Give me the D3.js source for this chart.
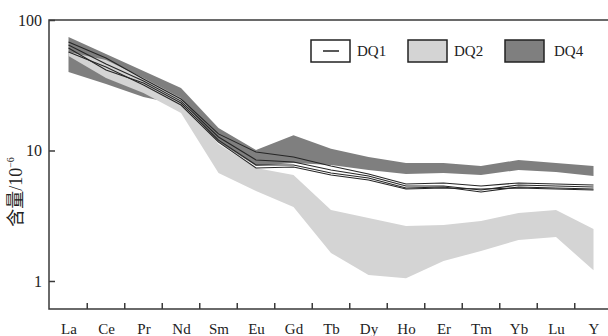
<!doctype html>
<html>
  <head>
    <script src="https://cdnjs.cloudflare.com/ajax/libs/d3/7.8.5/d3.min.js"></script>
    <style>
      body { margin: 0; background: #fff; }
      text { font-family: "Liberation Serif", "DejaVu Serif", serif; fill: #222; }
      .frame { stroke: #3a3a3a; stroke-width: 1.5; fill: none; }
      .dq1 { fill: none; stroke: #262626; stroke-width: 1.1; }
      .dq2 { fill: #d4d4d4; stroke: none; }
      .dq4 { fill: #7f7f7f; stroke: none; }
    </style>
  </head>
  <body>
    <svg width="608" height="336"></svg>
    <script>
      // REE elements on the x axis
      var elements = ["La", "Ce", "Pr", "Nd", "Sm", "Eu", "Gd", "Tb", "Dy", "Ho", "Er", "Tm", "Yb", "Lu", "Y"];

      // DQ1 samples (lines)
      var dq1a = [67.8, 51.2, 35.3, 24.8, 13.4, 9.74, 8.92, 7.61, 6.60, 5.54, 5.64, 5.35, 5.64, 5.54, 5.44];
      var dq1b = [64.3, 46.0, 34.1, 23.9, 12.7, 8.46, 8.16, 7.09, 6.38, 5.35, 5.35, 4.98, 5.44, 5.35, 5.25];
      var dq1c = [61.0, 41.4, 32.9, 23.1, 12.0, 7.74, 7.74, 6.72, 6.15, 5.16, 5.25, 4.81, 5.25, 5.16, 5.07];
      var dq1d = [56.9, 43.6, 31.8, 22.3, 11.6, 7.34, 7.47, 6.49, 5.94, 5.07, 5.16, 5.07, 5.16, 5.07, 4.98];

      // DQ2 range (light band)
      var dq2Max = [56.9, 49.4, 35.9, 25.3, 11.2, 7.34, 6.49, 3.50, 3.04, 2.64, 2.69, 2.88, 3.32, 3.50, 2.50];
      var dq2Min = [53.0, 35.9, 27.6, 19.4, 6.72, 4.89, 3.69, 1.64, 1.11, 1.05, 1.42, 1.70, 2.06, 2.17, 1.21];

      // DQ4 range (dark band)
      var dq4Max = [74.1, 54.9, 40.7, 30.1, 14.9, 10.1, 13.1, 10.3, 8.92, 8.02, 8.02, 7.61, 8.46, 8.02, 7.61];
      var dq4Min = [39.9, 32.3, 25.7, 22.3, 11.6, 7.61, 8.02, 7.74, 7.09, 6.60, 6.72, 6.49, 7.09, 6.84, 6.38];

      var yTicks = [1, 10, 100];
      var legendItems = [
        { name: "DQ1", cls: "line" },
        { name: "DQ2", cls: "dq2" },
        { name: "DQ4", cls: "dq4" }
      ];

      var svg = d3.select("svg");
      var mLeft = 49, mTop = 20, mBottom = 309, mRight = 608;

      var x = d3.scalePoint().domain(elements).range([68.5, 593.5]);
      var y = d3.scaleLog().domain([0.61, 100]).range([mBottom, mTop]);

      function band(maxs, mins) {
        return elements.map((e, i) => ({ e: e, hi: maxs[i], lo: mins[i] }));
      }
      var area = d3.area()
        .x(d => x(d.e))
        .y0(d => y(d.lo))
        .y1(d => y(d.hi));

      svg.append("path").datum(band(dq4Max, dq4Min)).attr("class", "dq4").attr("d", area);
      svg.append("path").datum(band(dq2Max, dq2Min)).attr("class", "dq2").attr("d", area);

      var line = d3.line().x((d, i) => x(elements[i])).y(d => y(d));
      svg.selectAll("path.dq1")
        .data([dq1a, dq1b, dq1c, dq1d])
        .enter()
        .append("path")
          .attr("class", "dq1")
          .attr("d", line);

      // frame: left, top, bottom
      svg.append("path").attr("class", "frame")
        .attr("d", `M${mRight},${mTop}H${mLeft}V${mBottom}H${mRight}`);

      // y axis
      var yAxis = d3.axisLeft(y)
        .tickValues(yTicks)
        .tickFormat(d3.format("d"))
        .tickSizeInner(-6)
        .tickSizeOuter(0)
        .tickPadding(7);
      var gy = svg.append("g").attr("transform", `translate(${mLeft},0)`).call(yAxis);
      gy.select(".domain").remove();
      gy.selectAll("line").attr("stroke", "#3a3a3a").attr("stroke-width", 1.5);
      gy.selectAll("text").style("font-size", "16px").attr("fill", "#222");

      // x axis labels at categories, ticks between them
      var xAxis = d3.axisBottom(x).tickSize(0).tickPadding(14);
      var gx = svg.append("g").attr("transform", `translate(0,${mBottom})`).call(xAxis);
      gx.select(".domain").remove();
      gx.selectAll("text").style("font-size", "15px").attr("fill", "#222");

      svg.append("g").selectAll("line")
        .data(elements.slice(0, -1))
        .enter()
        .append("line")
          .attr("x1", d => x(d) + x.step() / 2)
          .attr("x2", d => x(d) + x.step() / 2)
          .attr("y1", mBottom)
          .attr("y2", mBottom - 6)
          .attr("stroke", "#3a3a3a")
          .attr("stroke-width", 1.5);

      // y title
      var title = svg.append("text")
        .attr("transform", "translate(22,192) rotate(-90)")
        .attr("text-anchor", "middle")
        .style("font-size", "18px");
      title.append("tspan").style("font-family", "'Noto Sans CJK SC'").text("含量");
      title.append("tspan").text("/10");
      title.append("tspan").attr("dy", -8).style("font-size", "10px").text("−6");

      // legend
      var legendX = d3.scalePoint().domain(legendItems.map(d => d.name)).range([311, 505]);
      var lg = svg.append("g").selectAll("g")
        .data(legendItems)
        .enter()
        .append("g")
          .attr("transform", d => `translate(${legendX(d.name)},40)`);
      lg.append("rect")
        .attr("width", 39).attr("height", 22)
        .attr("fill", d => d.cls == "dq2" ? "#d4d4d4" : d.cls == "dq4" ? "#7f7f7f" : "#fff")
        .attr("stroke", "#222").attr("stroke-width", 1.5);
      lg.filter(d => d.cls == "line").append("line")
        .attr("x1", 12).attr("x2", 28).attr("y1", 11).attr("y2", 11)
        .attr("stroke", "#222").attr("stroke-width", 1.5);
      lg.append("text")
        .attr("x", d => d.cls == "dq4" ? 49 : 46)
        .attr("y", 16)
        .style("font-size", "15px")
        .text(d => d.name);
    </script>
  </body>
</html>
